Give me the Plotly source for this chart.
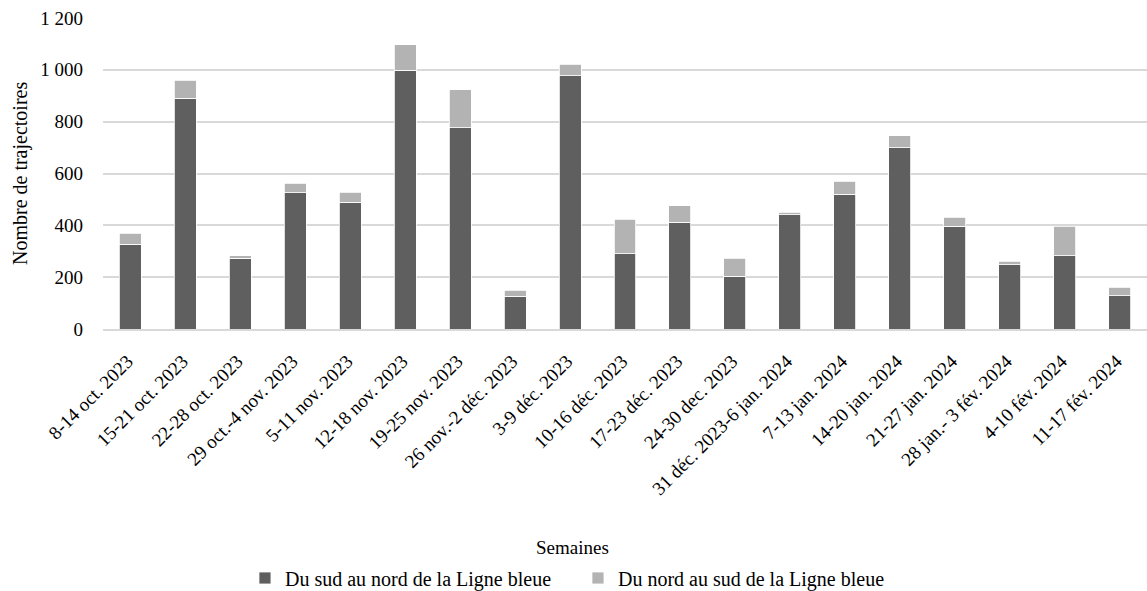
import plotly.graph_objects as go

# Weekly counts of trajectories crossing the Blue Line
weeks = [
    "8-14 oct. 2023", "15-21 oct. 2023", "22-28 oct. 2023", "29 oct.-4 nov. 2023",
    "5-11 nov. 2023", "12-18 nov. 2023", "19-25 nov. 2023", "26 nov.-2 déc. 2023",
    "3-9 déc. 2023", "10-16 déc. 2023", "17-23 déc. 2023", "24-30 dec. 2023",
    "31 déc. 2023-6 jan. 2024", "7-13 jan. 2024", "14-20 jan. 2024", "21-27 jan. 2024",
    "28 jan.- 3 fév. 2024", "4-10 fév. 2024", "11-17 fév. 2024",
]
sud_vers_nord = [327, 890, 273, 526, 490, 998, 777, 126, 977, 291, 412, 203,
                 441, 520, 700, 397, 247, 283, 129]
nord_vers_sud = [43, 70, 10, 37, 37, 99, 146, 24, 45, 132, 63, 70,
                 9, 51, 45, 34, 15, 114, 33]

y_ticks = [0, 200, 400, 600, 800, 1000, 1200]
y_tick_text = ["0", "200", "400", "600", "800", "1 000", "1 200"]

FONT = "Liberation Serif"

fig = go.Figure()
fig.add_trace(go.Bar(
    x=weeks, y=sud_vers_nord, name="Du sud au nord de la Ligne bleue",
    marker=dict(color="#5f5f5f", line=dict(color="#ffffff", width=0.8)),
    width=0.4,
))
fig.add_trace(go.Bar(
    x=weeks, y=nord_vers_sud, name="Du nord au sud de la Ligne bleue",
    marker=dict(color="#b3b3b3", line=dict(color="#ffffff", width=0.8)),
    width=0.4,
))

fig.update_layout(
    barmode="stack",
    width=1147, height=591,
    margin=dict(l=103, r=0, t=18, b=262, autoexpand=False),
    paper_bgcolor="white", plot_bgcolor="white",
    font=dict(family=FONT, size=19, color="#000000"),
    showlegend=True,
    legend=dict(
        orientation="h", xref="paper", x=0.136, xanchor="left",
        yref="container", y=0.022, yanchor="middle",
        font=dict(family=FONT, size=20), itemwidth=30, traceorder="normal",
        entrywidth=288, entrywidthmode="pixels",
    ),
    xaxis=dict(
        tickangle=-45, showgrid=False, showline=True, linecolor="#d9d9d9",
        linewidth=1.5, tickfont=dict(family=FONT, size=19), ticks="",
        ticklabelstandoff=12, ticklabelshift=-3, automargin=False,
    ),
    yaxis=dict(
        range=[0, 1200], tickvals=y_ticks, ticktext=y_tick_text,
        showgrid=True, gridcolor="#d9d9d9", gridwidth=1.5, zeroline=False,
        showline=False, ticks="", ticklabelstandoff=19,
        tickfont=dict(family=FONT, size=19), automargin=False,
    ),
    annotations=[
        dict(text="Nombre de trajectoires", textangle=-90, xref="paper", yref="paper",
             x=-0.079, y=0.5, xanchor="center", yanchor="middle", showarrow=False,
             font=dict(family=FONT, size=20)),
        dict(text="Semaines", xref="paper", yref="paper", x=0.45, y=-0.704,
             xanchor="center", yanchor="middle", showarrow=False,
             font=dict(family=FONT, size=19)),
    ],
)

fig.write_html("out.html")
